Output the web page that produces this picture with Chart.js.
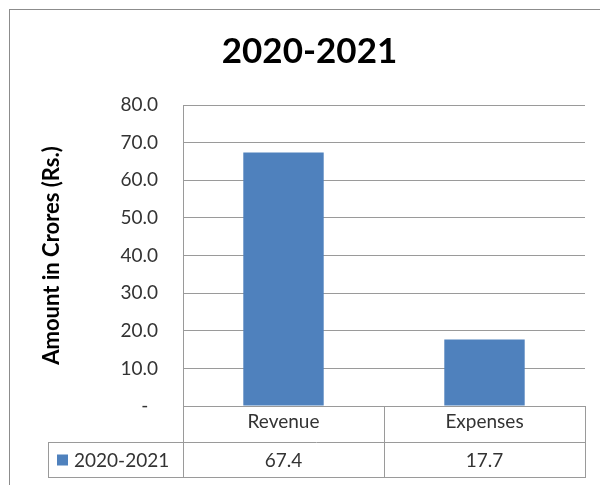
<!DOCTYPE html>
<html>
<head>
<meta charset="utf-8">
<script src="https://cdn.jsdelivr.net/npm/chart.js@4.4.0/dist/chart.umd.min.js"></script>
<style>
  html, body { margin: 0; padding: 0; background: #fff; }
</style>
</head>
<body>
<canvas id="finChart" width="600" height="485"></canvas>
<script>
// Podaci sa grafika
const categories = ['Revenue', 'Expenses'];
const seriesName = '2020-2021';
const seriesValues = [67.4, 17.7];
const yTicks = [0, 10, 20, 30, 40, 50, 60, 70, 80];
const chartTitle = '2020-2021';
const yTitle = 'Amount in Crores (Rs.)';

const barColor = '#4F81BD';
const lineColor = '#9a9a9a';
const textColor = '#333333';
const fontName = 'Lato';

// Okvir i tabela sa podacima ispod ose
const frameAndTable = {
    id: 'frameAndTable',
    beforeDraw(chart) {
        const ctx = chart.ctx;
        ctx.save();
        ctx.fillStyle = '#fff';
        ctx.fillRect(0, 0, chart.width, chart.height);
        ctx.strokeStyle = '#8c8c8c';
        ctx.lineWidth = 1;
        ctx.strokeRect(9.5, 9.5, chart.width, chart.height);
        ctx.restore();
    },
    afterDraw(chart) {
        const ctx = chart.ctx;
        const xs = chart.scales.x;
        const area = chart.chartArea;
        const rowTop = Math.round(area.bottom) + 36;
        const rowBottom = rowTop + 35;
        const tableLeft = 48;
        const n = categories.length;
        const step = (area.right - area.left) / n;

        ctx.save();
        ctx.strokeStyle = lineColor;
        ctx.lineWidth = 1;
        ctx.beginPath();
        for (let i = 0; i <= n; i++) {
            const px = Math.round(area.left + i * step) + 0.5;
            ctx.moveTo(px, area.bottom);
            ctx.lineTo(px, rowBottom);
        }
        ctx.moveTo(tableLeft + 0.5, rowTop);
        ctx.lineTo(tableLeft + 0.5, rowBottom);
        ctx.moveTo(tableLeft, rowTop + 0.5);
        ctx.lineTo(area.right, rowTop + 0.5);
        ctx.moveTo(tableLeft, rowBottom + 0.5);
        ctx.lineTo(area.right + 1, rowBottom + 0.5);
        ctx.stroke();

        const midY = (rowTop + rowBottom) / 2;
        ctx.fillStyle = barColor;
        ctx.fillRect(57, midY - 5, 11, 11);

        ctx.fillStyle = textColor;
        ctx.font = '19px ' + fontName;
        ctx.textBaseline = 'middle';
        ctx.textAlign = 'left';
        ctx.fillText(seriesName, 74, midY + 1);

        ctx.textAlign = 'center';
        seriesValues.forEach((v, i) => {
            ctx.fillText(v.toFixed(1), xs.getPixelForValue(i), midY + 1);
        });
        ctx.restore();
    }
};

const ctx = document.getElementById('finChart').getContext('2d');
new Chart(ctx, {
    type: 'bar',
    data: {
        labels: categories,
        datasets: [{
            label: seriesName,
            data: seriesValues,
            backgroundColor: barColor,
            borderWidth: 0,
            barPercentage: 0.4,
            categoryPercentage: 1.0
        }]
    },
    options: {
        responsive: false,
        animation: false,
        layout: {
            padding: { left: 34, right: 15, top: 10, bottom: 8 }
        },
        plugins: {
            legend: { display: false },
            tooltip: { enabled: false },
            title: {
                display: true,
                text: chartTitle,
                color: '#000',
                font: { family: fontName, size: 35, weight: 'bold' },
                padding: { top: 21, bottom: 32 }
            }
        },
        scales: {
            x: {
                afterFit: s => { s.height = 71; },
                grid: { drawOnChartArea: false, drawTicks: false },
                border: { display: true, color: lineColor },
                ticks: {
                    color: textColor,
                    padding: 4,
                    font: { family: fontName, size: 19 }
                }
            },
            y: {
                min: 0,
                max: 80,
                afterFit: s => { s.width = 149; },
                afterBuildTicks: s => { s.ticks = yTicks.map(v => ({ value: v })); },
                grid: { color: lineColor, drawTicks: false },
                border: { display: true, color: lineColor },
                ticks: {
                    color: textColor,
                    padding: 25,
                    font: { family: fontName, size: 19 },
                    callback: v => (v === 0 ? '-  ' : v.toFixed(1))
                },
                title: {
                    display: true,
                    text: yTitle,
                    color: '#000',
                    font: { family: fontName, size: 22, weight: 'bold' },
                    padding: { top: 5, bottom: 0 }
                }
            }
        }
    },
    plugins: [frameAndTable]
});
</script>
</body>
</html>
